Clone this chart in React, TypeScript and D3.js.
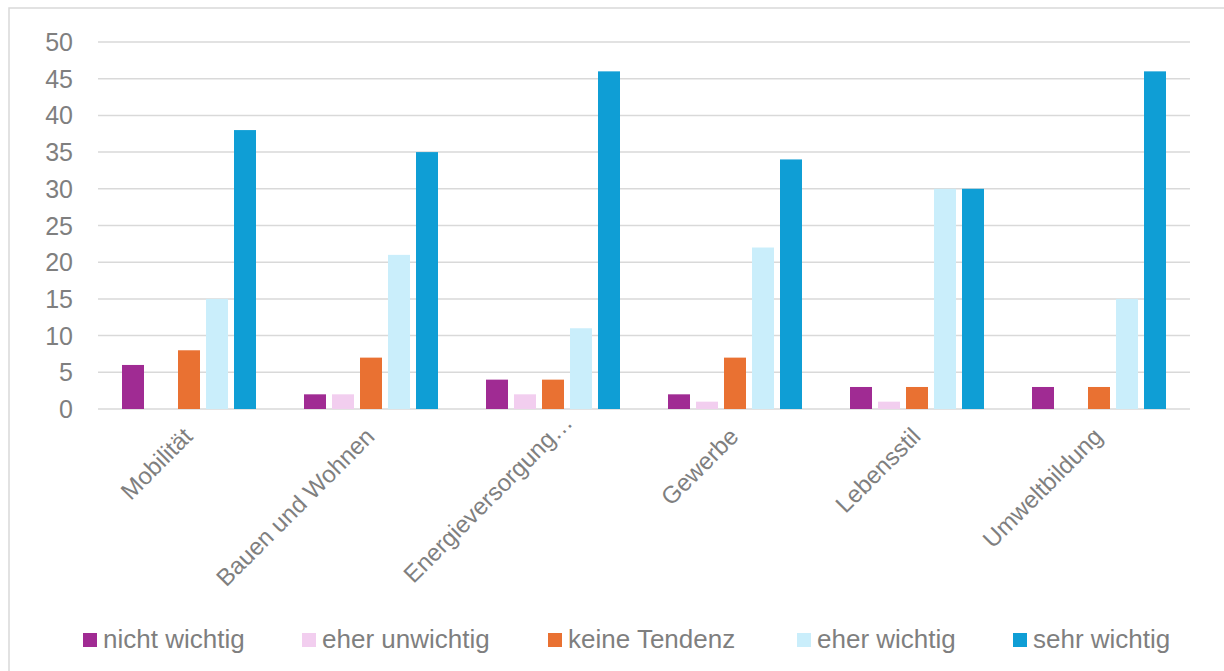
import React from "react";
import * as d3 from "d3";

const categories = ["Mobilität", "Bauen und Wohnen", "Energieversorgung…", "Gewerbe", "Lebensstil", "Umweltbildung"];
const seriesNames = ["nicht wichtig", "eher unwichtig", "keine Tendenz", "eher wichtig", "sehr wichtig"];
const seriesColors = ["#A02B93", "#F2CEEF", "#E97132", "#CAEEFB", "#0F9ED5"];
const nichtWichtig = [6, 2, 4, 2, 3, 3];
const eherUnwichtig = [0, 2, 2, 1, 1, 0];
const keineTendenz = [8, 7, 4, 7, 3, 3];
const eherWichtig = [15, 21, 11, 22, 30, 15];
const sehrWichtig = [38, 35, 46, 34, 30, 46];
const yTicks = [0, 5, 10, 15, 20, 25, 30, 35, 40, 45, 50];
const legendX = [83, 302, 548, 797, 1013];

const seriesValues = [nichtWichtig, eherUnwichtig, keineTendenz, eherWichtig, sehrWichtig];

const W = 1224;
const H = 671;
const plotLeft = 98;
const plotRight = 1190;
const plotTop = 42;
const plotBottom = 409;
const textColor = "#7F7F7F";
const font = "'Liberation Sans', Arial, sans-serif";

export default function App() {
  const x0 = d3.scaleBand<string>().domain(categories).range([plotLeft, plotRight]).padding(0);
  const x1 = d3
    .scaleBand<number>()
    .domain(d3.range(seriesNames.length))
    .range([24, x0.bandwidth() - 24])
    .paddingInner(6 / 28)
    .paddingOuter(0);
  const y = d3.scaleLinear().domain([0, 50]).range([plotBottom, plotTop]);

  return (
    <svg width={W} height={H} style={{ position: "absolute", left: 0, top: 0, background: "#fff" }}>
      <rect x={9} y={8} width={W + 10} height={H + 10} fill="#fff" stroke="#D9D9D9" strokeWidth={1.5} />
      {yTicks.map((t) => (
        <g key={t}>
          <line x1={plotLeft} x2={plotRight} y1={y(t)} y2={y(t)} stroke="#D9D9D9" strokeWidth={1.5} />
          <text
            x={73}
            y={y(t)}
            dy="0.36em"
            textAnchor="end"
            fontFamily={font}
            fontSize={25}
            fill={textColor}
          >
            {t}
          </text>
        </g>
      ))}
      {categories.map((c, ci) => (
        <g key={c} transform={`translate(${x0(c)},0)`}>
          {seriesValues.map((vals, si) =>
            vals[ci] > 0 ? (
              <rect
                key={si}
                x={x1(si)}
                y={y(vals[ci])}
                width={x1.bandwidth()}
                height={y(0) - y(vals[ci])}
                fill={seriesColors[si]}
              />
            ) : null
          )}
        </g>
      ))}
      {categories.map((c) => {
        const cx = (x0(c) as number) + x0.bandwidth() / 2;
        const truncated = c.endsWith("…");
        const ax = cx - 1 + (truncated ? 16 : 0);
        const ay = plotBottom + 23 - (truncated ? 14 : 0);
        return (
          <text
            key={c}
            transform={`translate(${ax},${ay}) rotate(-45)`}
            textAnchor="end"
            dy="0.35em"
            fontFamily={font}
            fontSize={24}
            fill={textColor}
          >
            {c}
          </text>
        );
      })}
      {seriesNames.map((s, i) => (
        <g key={s}>
          <rect x={legendX[i]} y={633} width={14} height={14} fill={seriesColors[i]} />
          <text x={legendX[i] + 20} y={639} dy="0.36em" fontFamily={font} fontSize={26} fill={textColor}>
            {s}
          </text>
        </g>
      ))}
    </svg>
  );
}
